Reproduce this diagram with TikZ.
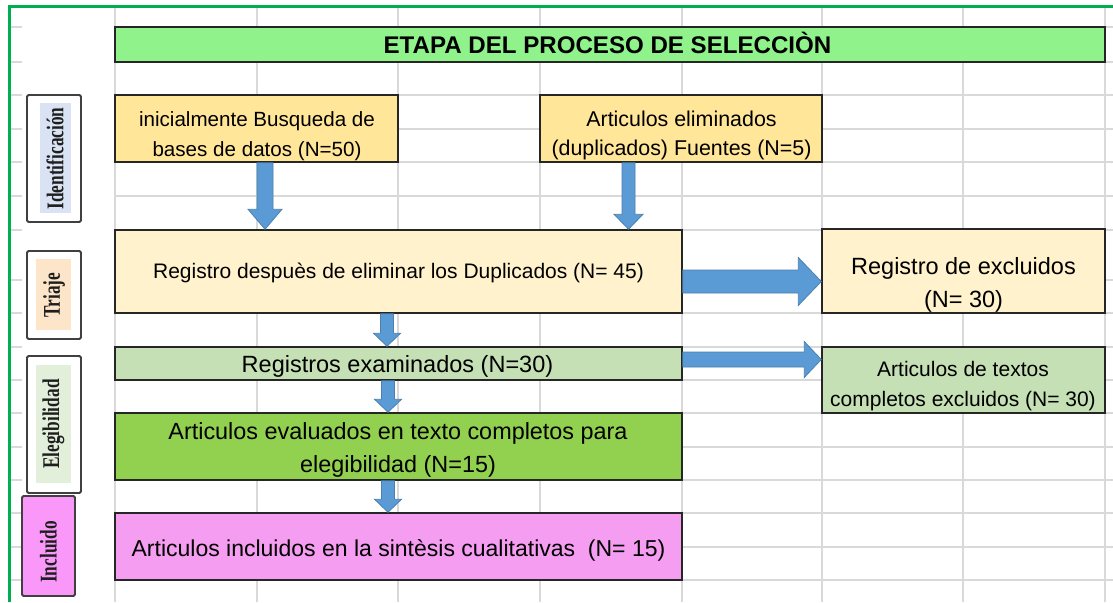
\documentclass[tikz,border=0pt]{standalone}
\usepackage{fontspec}
\setmainfont{Liberation Sans}
\newfontfamily\sideserif{Liberation Serif}
\usetikzlibrary{calc}
\definecolor{gridgray}{RGB}{217,217,217}
\definecolor{framegreen}{RGB}{0,176,80}
\definecolor{titlegreen}{RGB}{143,242,138}
\definecolor{lightorange}{RGB}{255,230,153}
\definecolor{paleyellow}{RGB}{255,242,204}
\definecolor{palegreen}{RGB}{197,224,180}
\definecolor{midgreen}{RGB}{146,208,80}
\definecolor{pinkbox}{RGB}{245,157,240}
\definecolor{pinkside}{RGB}{250,152,250}
\definecolor{arrowblue}{RGB}{91,155,213}
\definecolor{arrowedge}{RGB}{75,128,176}
\definecolor{edgegray}{RGB}{38,38,38}
\definecolor{sideedge}{RGB}{64,64,64}
\definecolor{sideblue}{RGB}{218,227,243}
\definecolor{sideorange}{RGB}{252,229,200}
\definecolor{sidegreen}{RGB}{226,239,218}
\definecolor{sidetext}{RGB}{30,30,30}
\begin{document}
\begin{tikzpicture}[x=1pt,y=-1pt,
  gridline/.style={draw=gridgray, line width=1.5pt},
  box/.style={draw=edgegray, line width=1.5pt, inner sep=0pt},
  tx/.style 2 args={inner sep=0pt, align=center, text=black, font=\fontsize{#1}{#2}\selectfont},
  sidebox/.style={draw=sideedge, line width=1.8pt, rounded corners=1.5pt, fill=white, inner sep=0pt},
  sidefill/.style={draw=none, inner sep=0pt},
  sidetxt/.style={inner sep=0pt, rotate=90, text=sidetext, font=\sideserif\bfseries\fontsize{24}{24}\selectfont},
  barrow/.style={fill=arrowblue, draw=arrowedge, line width=0.8pt, line join=miter},
  vblock/.style n args={3}{to path={let \p1=(\tikztostart), \p2=(\tikztotarget) in
     (\x1-#1,\y1) -- (\x1-#1,\y2+#3) -- (\x1-#2,\y2+#3) -- (\x1,\y2) -- (\x1+#2,\y2+#3) -- (\x1+#1,\y2+#3) -- (\x1+#1,\y1) -- cycle}},
  hblock/.style n args={3}{to path={let \p1=(\tikztostart), \p2=(\tikztotarget) in
     (\x1,\y1-#1) -- (\x2-#3,\y1-#1) -- (\x2-#3,\y1-#2) -- (\x2,\y1) -- (\x2-#3,\y1+#2) -- (\x2-#3,\y1+#1) -- (\x1,\y1+#1) -- cycle}},
]
\useasboundingbox[fill=white] (0,0) rectangle (1113,602);

% spreadsheet grid
\foreach \gx in {115,257,398,540,682,822,963,1105}
  \draw[gridline] (\gx,7) -- (\gx,602);
\foreach \gy in {27,62,95,129,162,196,230,280,313,347,380,413,447,480,513,547,580}{
  \draw[gridline] (115,\gy) -- (1113,\gy);
  \draw[gridline] (11,\gy) -- (22,\gy);
}
% green frame
\draw[framegreen, line width=3pt] (9,602) -- (9,7) -- (1113,7);

% title
\node[box, fill=titlegreen, minimum width=990, minimum height=35] (T) at (610,44.5) {};
\node[inner sep=0pt, text=black, font={\bfseries\fontsize{24.1}{28}\selectfont}, text height=17.3pt, text depth=0pt] (Tt) at (607.5,45) {ETAPA DEL PROCESO DE SELECCIÒN};

% boxes
\node[box, fill=lightorange, minimum width=283, minimum height=67] (A) at (256.5,128.5) {};
\node[tx={20.6}{30}] (At) at (257,136) {inicialmente Busqueda de\\bases de datos (N=50)};

\node[box, fill=lightorange, minimum width=282, minimum height=67] (B) at (681,128.5) {};
\node[tx={21.4}{29}] (Bt) at (681.5,135) {Articulos eliminados\\(duplicados) Fuentes (N=5)};

\node[box, fill=paleyellow, minimum width=567, minimum height=83] (C) at (398.5,271.5) {};
\node[tx={21}{25}] (Ct) at (398.5,273) {Registro despuès de eliminar los Duplicados (N= 45)};

\node[box, fill=paleyellow, minimum width=283, minimum height=84] (D) at (963.5,271) {};
\node[tx={23.5}{33}] (Dt) at (963.5,285) {Registro de excluidos\\(N= 30)};

\node[box, fill=palegreen, minimum width=567, minimum height=33] (E) at (398.5,363.5) {};
\node[tx={23.5}{28}] (Et) at (397.5,366) {Registros examinados (N=30)};

\node[box, fill=palegreen, minimum width=283, minimum height=66] (H) at (963.5,380) {};
\node[tx={21}{30}] (Ht) at (963,386.5) {Articulos de textos\\completos excluidos (N= 30)};

\node[box, fill=midgreen, minimum width=567, minimum height=67] (F) at (398.5,446.5) {};
\node[tx={23.4}{33}] (Ft) at (398,450) {Articulos evaluados en texto completos para\\elegibilidad (N=15)};

\node[box, fill=pinkbox, minimum width=567, minimum height=67] (G) at (398.5,546.5) {};
\node[tx={23}{28}] (Gt) at (398.5,550) {Articulos incluidos en la sintèsis cualitativas\ \ (N= 15)};

% side labels
\node[sidebox, minimum width=54, minimum height=127] (S1) at (54,158.5) {};
\node[sidefill, fill=sideblue, minimum width=31, minimum height=110] (S1f) at (55.5,158) {};
\node[sidetxt] (S1t) at (55,158.5) {\scalebox{0.72}[1]{Identificación}};

\node[sidebox, minimum width=54, minimum height=88] (S2) at (54,295) {};
\node[sidefill, fill=sideorange, minimum width=35, minimum height=71] (S2f) at (53.5,294.5) {};
\node[sidetxt] (S2t) at (54,295) {\scalebox{0.72}[1]{Triaje}};

\node[sidebox, minimum width=54, minimum height=137] (S3) at (54,424.5) {};
\node[sidefill, fill=sidegreen, minimum width=35, minimum height=118] (S3f) at (53.5,424) {};
\node[sidetxt] (S3t) at (53.5,424) {\scalebox{0.72}[1]{Elegibilidad}};

\node[sidebox, fill=pinkside, minimum width=53, minimum height=100] (S4) at (48.5,546) {};
\node[sidetxt] (S4t) at (48.5,552) {\scalebox{0.72}[1]{Incluido}};

% block arrows
\draw[barrow, vblock={8pt}{17pt}{20pt}] ($(A.south)+(8.5,0)$) to (C.north);
\draw[barrow, vblock={6.5pt}{14.5pt}{15pt}] ($(B.south)+(-52.5,0)$) to (C.north);
\draw[barrow, hblock={11.5pt}{24pt}{23pt}] ($(C.east)+(0,10)$) to (D.west);
\draw[barrow, hblock={7.5pt}{18pt}{17pt}] ($(E.east)+(0,-4)$) to (H.west);
\draw[barrow, vblock={6.5pt}{13.5pt}{13pt}] ($(C.south)+(-11.5,0)$) to (E.north);
\draw[barrow, vblock={6.5pt}{13.5pt}{13pt}] ($(E.south)+(-10.5,0)$) to (F.north);
\draw[barrow, vblock={6.5pt}{13.5pt}{13pt}] ($(F.south)+(-10.5,0)$) to (G.north);
\end{tikzpicture}
\end{document}
